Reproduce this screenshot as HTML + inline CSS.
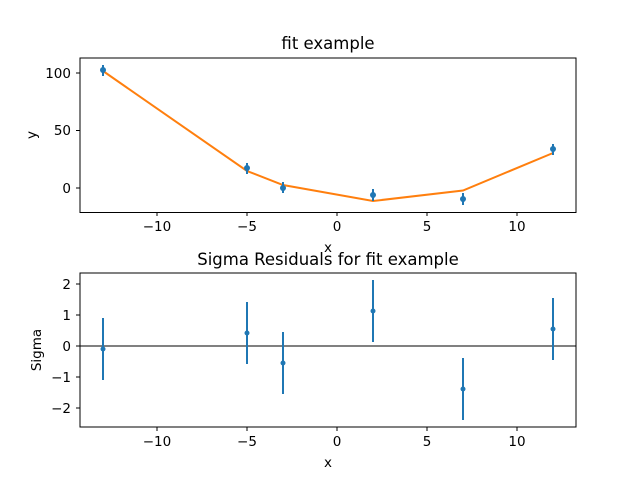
<!DOCTYPE html><html><head><style>body{margin:0;background:#fff}svg{font-family:"DejaVu Sans","Liberation Sans",sans-serif}</style></head><body>
<svg width="640" height="480" viewBox="0 0 640 480" xmlns="http://www.w3.org/2000/svg">
<rect width="640" height="480" fill="#fff"/>
<text x="328" y="49" font-size="16.5" text-anchor="middle">fit example</text>
<polyline points="103,71 247,171 283,185 373,201 463,190.5 553,153" fill="none" stroke="#ff7f0e" stroke-width="2"/>
<g stroke="#1f77b4" stroke-width="2">
<line x1="103" y1="65" x2="103" y2="76"/><line x1="247" y1="163" x2="247" y2="174"/><line x1="283" y1="182" x2="283" y2="193"/>
<line x1="373" y1="189" x2="373" y2="201"/><line x1="463" y1="193" x2="463" y2="205"/><line x1="553" y1="144" x2="553" y2="155"/></g>
<g fill="#1f77b4"><circle cx="103" cy="70" r="3"/><circle cx="247" cy="168" r="3"/><circle cx="283" cy="188" r="3"/><circle cx="373" cy="195" r="3"/><circle cx="463" cy="199" r="3"/><circle cx="553" cy="149" r="3"/></g>
<rect x="80" y="58" width="496" height="154.5" fill="none" stroke="#000" stroke-width="1"/>
<g stroke="#000"><line x1="157" y1="212" x2="157" y2="216"/><line x1="247" y1="212" x2="247" y2="216"/><line x1="337" y1="212" x2="337" y2="216"/><line x1="427" y1="212" x2="427" y2="216"/><line x1="517" y1="212" x2="517" y2="216"/>
<line x1="76" y1="73" x2="80" y2="73"/><line x1="76" y1="130.5" x2="80" y2="130.5"/><line x1="76" y1="188" x2="80" y2="188"/></g>
<g font-size="13.5" text-anchor="middle"><text x="157" y="231">−10</text><text x="247" y="231">−5</text><text x="337" y="231">0</text><text x="427" y="231">5</text><text x="517" y="231">10</text><text x="328" y="252">x</text></g>
<g font-size="13.5" text-anchor="end"><text x="71" y="78">100</text><text x="71" y="135">50</text><text x="71" y="193">0</text></g>
<text x="36" y="135" font-size="13.5" text-anchor="middle" transform="rotate(-90 36 135)">y</text>
<text x="328" y="265" font-size="16.5" text-anchor="middle">Sigma Residuals for fit example</text>
<line x1="80" y1="346" x2="576" y2="346" stroke="#000" stroke-width="1"/>
<g stroke="#1f77b4" stroke-width="2">
<line x1="103" y1="318" x2="103" y2="380"/><line x1="247" y1="302" x2="247" y2="364"/><line x1="283" y1="332" x2="283" y2="394"/>
<line x1="373" y1="280" x2="373" y2="342"/><line x1="463" y1="358" x2="463" y2="420"/><line x1="553" y1="298" x2="553" y2="360"/></g>
<g fill="#1f77b4"><circle cx="103" cy="349" r="2.5"/><circle cx="247" cy="333" r="2.5"/><circle cx="283" cy="363" r="2.5"/><circle cx="373" cy="311" r="2.5"/><circle cx="463" cy="389" r="2.5"/><circle cx="553" cy="329" r="2.5"/></g>
<rect x="80" y="273" width="496" height="154" fill="none" stroke="#000" stroke-width="1"/>
<g stroke="#000"><line x1="157" y1="427" x2="157" y2="431"/><line x1="247" y1="427" x2="247" y2="431"/><line x1="337" y1="427" x2="337" y2="431"/><line x1="427" y1="427" x2="427" y2="431"/><line x1="517" y1="427" x2="517" y2="431"/>
<line x1="76" y1="284" x2="80" y2="284"/><line x1="76" y1="315" x2="80" y2="315"/><line x1="76" y1="346" x2="80" y2="346"/><line x1="76" y1="377" x2="80" y2="377"/><line x1="76" y1="408" x2="80" y2="408"/></g>
<g font-size="13.5" text-anchor="middle"><text x="157" y="446">−10</text><text x="247" y="446">−5</text><text x="337" y="446">0</text><text x="427" y="446">5</text><text x="517" y="446">10</text><text x="328" y="467">x</text></g>
<g font-size="13.5" text-anchor="end"><text x="71" y="289">2</text><text x="71" y="320">1</text><text x="71" y="351">0</text><text x="71" y="382">−1</text><text x="71" y="413">−2</text></g>
<text x="41" y="350" font-size="13.5" text-anchor="middle" transform="rotate(-90 41 350)">Sigma</text>
</svg></body></html>
